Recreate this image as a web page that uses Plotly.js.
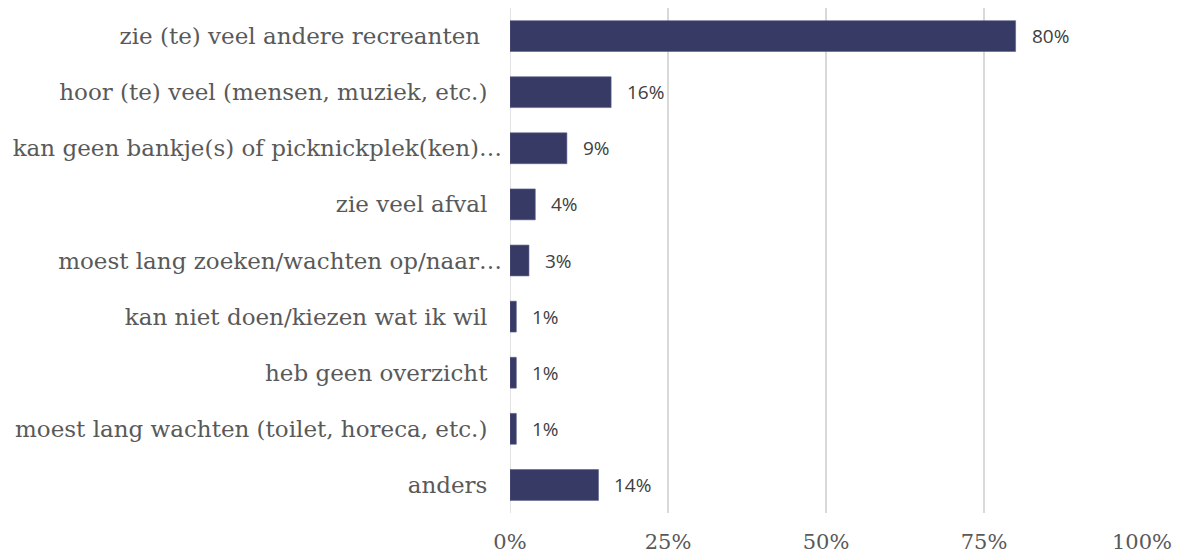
<!DOCTYPE html>
<html>
<head>
<meta charset="utf-8">
<script src="https://cdn.plot.ly/plotly-3.0.1.min.js"></script>
<style>html,body{margin:0;padding:0;background:#fff;}#chart{width:1185px;height:559px;}</style>
</head>
<body>
<div id="chart"></div>
<script>
const categories = [
  "zie (te) veel andere recreanten",
  "hoor (te) veel (mensen, muziek, etc.)",
  "kan geen bankje(s) of picknickplek(ken)…",
  "zie veel afval",
  "moest lang zoeken/wachten op/naar…",
  "kan niet doen/kiezen wat ik wil",
  "heb geen overzicht",
  "moest lang wachten (toilet, horeca, etc.)",
  "anders"
];
const values = [0.80, 0.16, 0.09, 0.04, 0.03, 0.01, 0.01, 0.01, 0.14];
const valueLabels = ["80%", "16%", "9%", "4%", "3%", "1%", "1%", "1%", "14%"];
const tickVals = [0, 0.25, 0.5, 0.75, 1];
const tickText = ["0%", "25%", "50%", "75%", "100%"];

// trailing padding so that labels with an ellipsis run further right, as in the original
const catTickText = categories.map((c, i) =>
  c.endsWith("…") ? c : c + (i === 0 ? "\u00a0\u00a0\u00a0" : "\u00a0\u00a0"));

const trace = {
  type: "bar",
  orientation: "h",
  y: categories,
  x: values,
  marker: {color: "#363a64", line: {color: "#5c6089", width: 0.6}},
  hoverinfo: "none"
};

const annotations = values.map((v, i) => ({
  x: v, y: categories[i], xref: "x", yref: "y",
  text: valueLabels[i], showarrow: false, xanchor: "left", xshift: 14,
  font: {family: "Open Sans", size: 19, color: "#404040"}
}));

const layout = {
  width: 1185, height: 559,
  margin: {l: 510, r: 43, t: 8, b: 46},
  paper_bgcolor: "#fff", plot_bgcolor: "#fff",
  bargap: 0.45,
  showlegend: false,
  xaxis: {
    range: [0, 1], tickvals: tickVals, ticktext: tickText,
    showgrid: true, gridcolor: "#d9d9d9", gridwidth: 1.5,
    zeroline: false, showline: false,
    ticks: "", ticklabelstandoff: 14,
    tickfont: {family: "DejaVu Serif", size: 21, color: "#595959"},
    fixedrange: true
  },
  yaxis: {
    autorange: "reversed", type: "category",
    tickvals: categories, ticktext: catTickText,
    showgrid: false, zeroline: false, showline: false,
    ticks: "", ticklabelstandoff: 7,
    tickfont: {family: "DejaVu Serif", size: 23, color: "#595959"},
    fixedrange: true
  },
  shapes: [{type: "line", xref: "x", yref: "paper", x0: 0, x1: 0, y0: 0, y1: 1,
    line: {color: "#d9d9d9", width: 1.5}, layer: "below"}],
  annotations: annotations
};

Plotly.newPlot("chart", [trace], layout, {displayModeBar: false, staticPlot: true});
</script>
</body>
</html>
